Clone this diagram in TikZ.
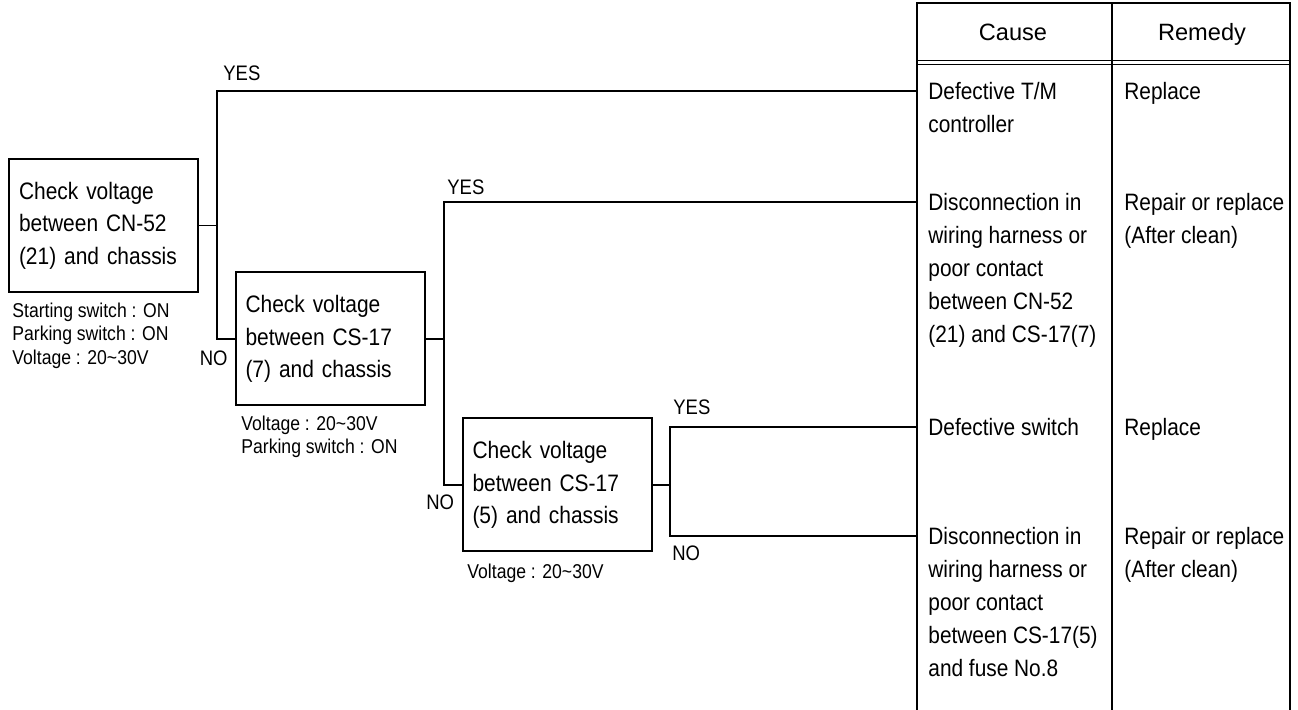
\documentclass[tikz,border=0pt]{standalone}
\usepackage{fontspec}
\setmainfont{Liberation Sans}[FakeStretch=0.88]
\newfontfamily\hdfont{Liberation Sans}
\begin{document}
\begin{tikzpicture}[x=0.5pt,y=-0.5pt,
  chk/.style={draw,line width=1pt,inner xsep=5pt,inner ysep=0pt,text width=84.5pt,align=left,minimum height=66.5pt,font=\fontsize{11.9}{16.25}\selectfont},
  conn/.style={line width=0.6pt},
  lbl/.style={inner sep=0pt,font=\fontsize{10.5}{12}\selectfont},
  note/.style={inner sep=0pt,align=left,anchor=north west,font=\fontsize{10}{11.75}\selectfont},
  cell/.style={inner sep=0pt,align=left,anchor=north west,font=\fontsize{11.85}{16.5}\selectfont},
  head/.style={inner sep=0pt,anchor=base,font=\hdfont\fontsize{11.8}{14}\selectfont},
  frame/.style={line width=1pt},
  divider/.style={line width=0.65pt},
  thin/.style={line width=0.5pt}]
\useasboundingbox (0,0) rectangle (1298,710);

% check boxes
\node[chk] (b1) at (103.5,225.5) {Check voltage\\between CN-52\\(21) and chassis};
\node[chk] (b2) at (330,339) {Check voltage\\between CS-17\\(7) and chassis};
\node[chk] (b3) at (557,485) {Check voltage\\between CS-17\\(5) and chassis};

% notes
\node[note] (n1) at (12,302.5) {Starting switch : ON\\Parking switch : ON\\Voltage : 20\textasciitilde30V};
\node[note] (n2) at (241,415.5) {Voltage : 20\textasciitilde30V\\Parking switch : ON};
\node[note] (n3) at (467,563.5) {Voltage : 20\textasciitilde30V};

% junctions and table entry points
\coordinate (j1t) at (217,91);
\coordinate (j1b) at (217,339);
\coordinate (j2t) at (444,202);
\coordinate (j2b) at (444,485);
\coordinate (j3t) at (670,427);
\coordinate (j3b) at (670,536);
\coordinate (t1) at (917,91);
\coordinate (t2) at (917,202);
\coordinate (t3) at (917,427);
\coordinate (t4) at (917,536);

% connectors
\draw[conn] (b1.east) -- (b1.east -| j1t);
\draw[conn] (t1) -- (j1t) -- (j1b) -- (b2.west);
\draw[conn] (b2.east) -- (b2.east -| j2t);
\draw[conn] (t2) -- (j2t) -- (j2b) -- (b3.west);
\draw[conn] (b3.east) -- (b3.east -| j3t);
\draw[conn] (t3) -- (j3t) -- (j3b) -- (t4);

% labels
\node[lbl,anchor=base west] (y1) at (223,80.5) {YES};
\node[lbl,anchor=base east] (o1) at (228,365.5) {NO};
\node[lbl,anchor=base west] (y2) at (447,194.5) {YES};
\node[lbl,anchor=base west] (o2) at (426,509.5) {NO};
\node[lbl,anchor=base west] (y3) at (673,414.5) {YES};
\node[lbl,anchor=base west] (o3) at (672,560.5) {NO};

% table
\draw[frame] (917,710) -- (917,3) -- (1290,3) -- (1290,710);
\draw[divider] (1112,3) -- (1112,710);
\draw[thin] (917,61) -- (1290,61);
\draw[thin] (917,64.5) -- (1290,64.5);
\node[head] (hc) at (1013,40.5) {Cause};
\node[head] (hr) at (1202,40.5) {Remedy};

\node[cell] (c1) at (928,82) {Defective T/M\\controller};
\node[cell] (c2) at (928,193) {Disconnection in\\wiring harness or\\poor contact\\between CN-52\\(21) and CS-17(7)};
\node[cell] (c3) at (928,418) {Defective switch};
\node[cell] (c4) at (928,527) {Disconnection in\\wiring harness or\\poor contact\\between CS-17(5)\\and fuse No.8};

\node[cell] (r1) at (1124,82) {Replace};
\node[cell] (r2) at (1124,193) {Repair or replace\\(After clean)};
\node[cell] (r3) at (1124,418) {Replace};
\node[cell] (r4) at (1124,527) {Repair or replace\\(After clean)};
\end{tikzpicture}
\end{document}
